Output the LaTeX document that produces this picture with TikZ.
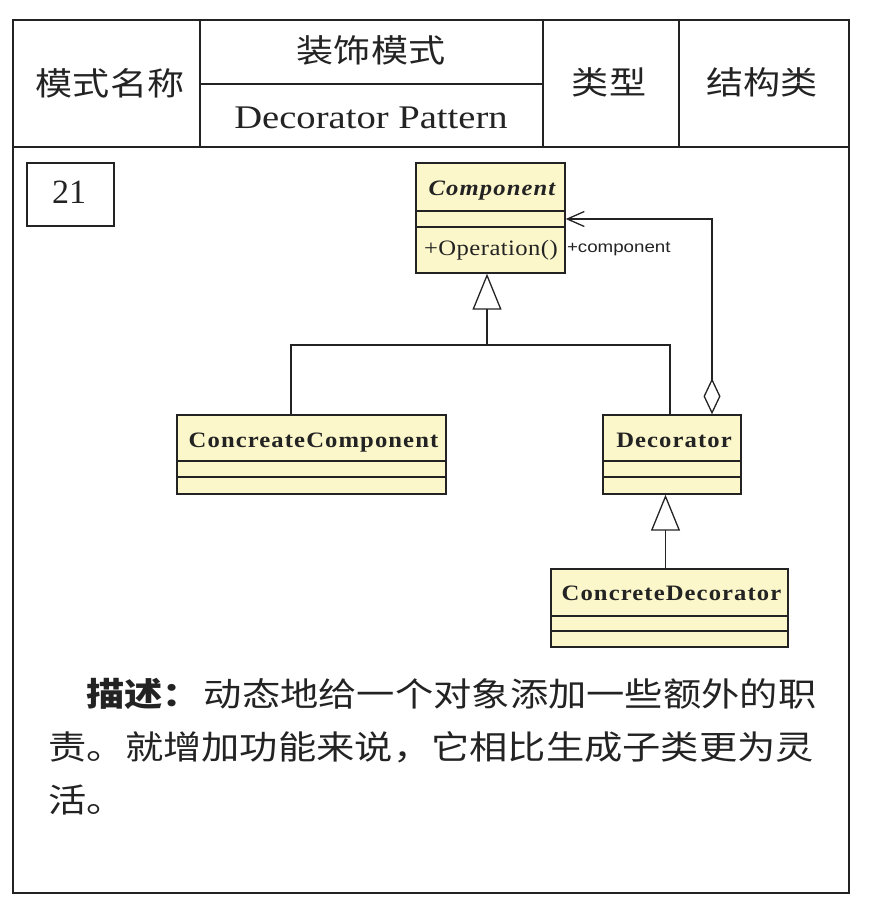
\documentclass[tikz,border=0pt]{standalone}
\usepackage{fontspec}
\setmainfont{Liberation Serif}
\newfontfamily\cjk{Noto Sans CJK SC}[FakeStretch=1.16]
\newfontfamily\latinhdr{Liberation Serif}[FakeStretch=1.17]
\newfontfamily\umlb{Liberation Serif}[FakeStretch=1.12,LetterSpace=5]
\newfontfamily\umlr{Liberation Serif}[FakeStretch=1.12,LetterSpace=2]
\newfontfamily\umls{Liberation Sans}[FakeStretch=1.17]
\usetikzlibrary{arrows.meta}
\definecolor{umlfill}{RGB}{251,247,202}
\definecolor{ink}{RGB}{35,35,35}
\begin{document}
\begin{tikzpicture}[x=1pt,y=-1pt,
  tbl/.style={draw=ink,line width=1.8pt},
  clsbox/.style={draw=ink,line width=1.4pt,fill=umlfill,inner sep=0pt},
  clsline/.style={draw=ink,line width=1.4pt},
  conn/.style={draw=ink,line width=1.3pt},
  gen/.style={conn,-{Triangle[open,length=36pt,width=29pt]}},
  agg/.style={conn,{Diamond[open,length=36pt,width=17pt]}-{Straight Barb[length=17pt,width=15pt]}},
  txt/.style={inner sep=0pt,outer sep=0pt,text=ink},
  hcjk/.style={txt,font=\cjk\fontsize{32}{36}\selectfont},
  dcjk/.style={txt,anchor=west,font=\cjk\fontsize{33}{40}\selectfont},
  clsname/.style={txt,anchor=base,font=\umlb\bfseries\fontsize{22}{26}\selectfont},
]
\useasboundingbox (0,0) rectangle (874,910);
% table frame
\draw[tbl] (13,20) rectangle (849,893);
\draw[tbl] (13,147) -- (849,147);
\draw[tbl] (200,20) -- (200,147);
\draw[tbl] (543,20) -- (543,147);
\draw[tbl] (679,20) -- (679,147);
\draw[tbl] (200,84) -- (543,84);
% header texts
\node[hcjk] (hname) at (110,83) {模式名称};
\node[hcjk] (hcn) at (371,50) {装饰模式};
\node[txt,anchor=base,font=\latinhdr\fontsize{33}{38}\selectfont] (hen) at (371,128) {Decorator Pattern};
\node[hcjk] (htype) at (609,82) {类型};
\node[hcjk] (hval) at (762,82) {结构类};
% number box
\node[draw=ink,line width=1.6pt,minimum width=87pt,minimum height=63pt,inner sep=0pt] (numbox) at (70.5,194.5) {};
\node[txt,anchor=base,font=\fontsize{34}{40}\selectfont] (num) at (69,203) {21};
% class boxes
\node[clsbox,minimum width=149pt,minimum height=110pt] (comp) at (490.5,218) {};
\draw[clsline] (comp.west |- 0,211) -- (comp.east |- 0,211);
\draw[clsline] (comp.west |- 0,227) -- (comp.east |- 0,227);
\node[txt,anchor=base,font=\umlb\bfseries\itshape\fontsize{22}{26}\selectfont] (compname) at (492,195) {Component};
\node[txt,anchor=base,font=\umlr\fontsize{22}{26}\selectfont] (compop) at (491,255) {+Operation()};

\node[clsbox,minimum width=269pt,minimum height=79pt] (cc) at (311.5,454.5) {};
\draw[clsline] (cc.west |- 0,461) -- (cc.east |- 0,461);
\draw[clsline] (cc.west |- 0,477) -- (cc.east |- 0,477);
\node[clsname] (ccname) at (313.5,447) {ConcreateComponent};

\node[clsbox,minimum width=138pt,minimum height=79pt] (dec) at (672,454.5) {};
\draw[clsline] (dec.west |- 0,461) -- (dec.east |- 0,461);
\draw[clsline] (dec.west |- 0,477) -- (dec.east |- 0,477);
\node[clsname] (decname) at (674,447) {Decorator};

\node[clsbox,minimum width=237pt,minimum height=78pt] (cd) at (669.5,608) {};
\draw[clsline] (cd.west |- 0,616) -- (cd.east |- 0,616);
\draw[clsline] (cd.west |- 0,631) -- (cd.east |- 0,631);
\node[clsname] (cdname) at (671.5,600) {ConcreteDecorator};
% connectors
\coordinate (jc) at (291,345);
\coordinate (jd) at (670,345);
\coordinate (jm) at (487,345);
\coordinate (ja) at (712,219);
\coordinate (gd) at (665.5,550);
\draw[conn] (cc.north -| jc) -- (jc) -- (jd) -- (dec.north -| jd);
\draw[gen] (jm) -- (comp.south -| jm);
\draw[gen] (cd.north -| gd) -- (dec.south -| gd);
\draw[agg] (dec.north -| ja) -- (ja) -- (comp.east |- ja);
\node[txt,anchor=base west,font=\umls\fontsize{16}{19}\selectfont] (rolelbl) at (567,252) {+component};
% description
\node[dcjk] (d1) at (86,694) {\textbf{描述：}\hspace{3pt}动态地给一个对象添加一些额外的职};
\node[dcjk] (d2) at (48.5,747) {责。就增加功能来说，它相比生成子类更为灵};
\node[dcjk] (d3) at (48.5,800) {活。};
\end{tikzpicture}
\end{document}
